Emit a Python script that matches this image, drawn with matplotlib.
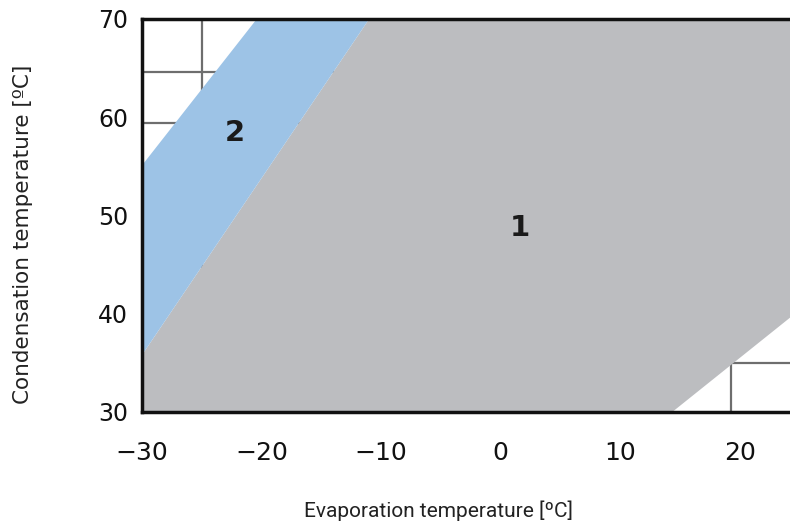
import matplotlib
matplotlib.use('Agg')
import matplotlib.pyplot as plt

# operating envelope
region1_x = [-11.0, 24.2, 24.2, 14.35, -30.0, -30.0]
region1_y = [70.0, 70.0, 39.6, 30.0, 30.0, 35.8]
region2_x = [-20.4, -11.0, -30.0, -30.0]
region2_y = [70.0, 70.0, 35.8, 55.1]

grid_x = [-25.0, 19.3]
grid_y = [64.6, 59.4, 35.0]

x_ticks = [-30, -20, -10, 0, 10, 20]
y_ticks = [30, 40, 50, 60, 70]

labels = ['1', '2']
label_x = [1.6, -22.2]
label_y = [48.7, 58.4]

fig = plt.figure(figsize=(7.9, 5.27), dpi=100)
ax = fig.add_axes([142 / 790, 1 - 412 / 527, 648 / 790, 393 / 527])

for gx in grid_x:
    ax.axvline(gx, color='#6e6e6e', lw=1.6, zorder=1)
for gy in grid_y:
    ax.axhline(gy, color='#6e6e6e', lw=1.6, zorder=1)

ax.fill(region1_x, region1_y, color='#bcbdc0', lw=0, zorder=2)
ax.fill(region2_x, region2_y, color='#9dc3e6', lw=0, zorder=2)

for txt, tx, ty in zip(labels, label_x, label_y):
    ax.text(tx, ty, txt, fontsize=21, fontweight='bold', color='#1a1a1a',
            ha='center', va='center', zorder=3)

ax.set_xlim(-30, 24.2)
ax.set_ylim(30, 70)
ax.set_xticks(x_ticks)
ax.set_yticks(y_ticks)
ax.tick_params(axis='both', length=0, labelcolor='#111111')
ax.tick_params(axis='x', pad=21, labelsize=18)
ax.tick_params(axis='y', pad=10, labelsize=17)

for side in ['top', 'left', 'bottom']:
    ax.spines[side].set_linewidth(2.5)
    ax.spines[side].set_color('#111111')
    ax.spines[side].set_zorder(4)
ax.spines['right'].set_visible(False)

ax.set_xlabel('Evaporation temperature [ºC]', fontsize=15, family='Roboto',
              color='#222222')
ax.xaxis.set_label_coords(0.457, -0.225)
ax.set_ylabel('Condensation temperature [ºC]', fontsize=15.5, color='#222222')
ax.yaxis.set_label_coords(-0.168, 0.453)

fig.savefig('out.png', dpi=100)
